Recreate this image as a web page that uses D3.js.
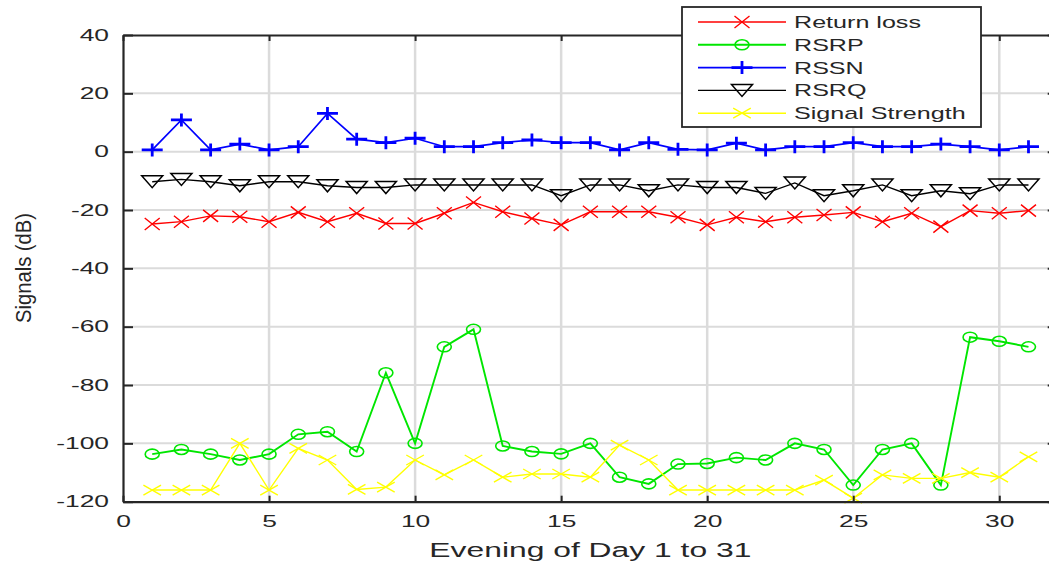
<!DOCTYPE html>
<html>
<head>
<meta charset="utf-8">
<script src="https://cdn.jsdelivr.net/npm/d3@7"></script>
<style>
body { margin: 0; background: #fff; }
svg { display: block; font-family: "Liberation Sans", Arial, sans-serif; }
</style>
</head>
<body>
<svg id="chart" width="1049" height="563"></svg>
<script>
//data
var days = [1,2,3,4,5,6,7,8,9,10,11,12,13,14,15,16,17,18,19,20,21,22,23,24,25,26,27,28,29,30,31];
var returnLoss = [-24.8,-24,-22,-22.3,-24,-20.8,-24,-21.1,-24.6,-24.6,-21.1,-17.4,-20.6,-22.9,-25.1,-20.6,-20.6,-20.6,-22.5,-25.1,-22.5,-24,-22.5,-21.7,-20.8,-24,-21.1,-25.7,-20.2,-21.1,-20.2];
var rsrp = [-103.7,-102.1,-103.7,-105.7,-103.7,-96.9,-96,-102.8,-75.8,-100,-66.9,-60.9,-100.9,-102.8,-103.6,-100,-111.6,-113.9,-107.1,-106.9,-104.9,-105.7,-100,-102.1,-114.3,-102.1,-100,-114.3,-63.6,-65,-66.9];
var rssn = [0.6,10.9,0.6,2.6,0.6,1.7,13.1,4.3,3.1,4.6,1.7,1.7,3.1,4,3.1,3.1,0.6,3.1,0.8,0.6,2.9,0.6,1.7,1.7,3.1,1.7,1.7,2.6,1.7,0.6,1.7];
var rsrq = [-10.3,-9.5,-10.3,-11.7,-10.3,-10.3,-11.7,-12.3,-12.3,-11.4,-11.4,-11.4,-11.4,-11.4,-15.1,-11.4,-11.4,-13.4,-11.4,-12.3,-12.3,-14.3,-10.7,-15.1,-13.4,-11.4,-15.1,-13.4,-14.4,-11.4,-11.4];
var signalStrength = [-116,-116,-116,-100,-116,-101.7,-105.7,-115.8,-115,-105.7,-110.8,-105.7,-111.6,-110.5,-110.5,-111.6,-100.6,-105.7,-116,-116,-116,-116,-116,-112.6,-118.8,-110.8,-112,-112,-110,-111.6,-104.6];
var seriesNames = ["Return loss","RSRP","RSSN","RSRQ","Signal Strength"];
var xTicks = [0,5,10,15,20,25,30];
var yTicks = [-120,-100,-80,-60,-40,-20,0,20,40];

//layout
var plotLeft = 123, plotRight = 1057.7, plotTop = 35, plotBottom = 501.7;
var ink = "#262626";
var sx = 1.65; //text in the picture is stretched sideways

var x = d3.scaleLinear().domain([0,32]).range([plotLeft,plotRight]);
var y = d3.scaleLinear().domain([-120,40]).range([plotBottom,plotTop]);

var svg = d3.select("#chart");

//grid
svg.append("g").selectAll("line").data(xTicks.slice(1)).enter().append("line")
	.attr("x1", d => x(d)).attr("x2", d => x(d))
	.attr("y1", plotTop).attr("y2", plotBottom)
	.attr("stroke", "#dbdbdb").attr("stroke-width", 2.5);
svg.append("g").selectAll("line").data(yTicks.slice(1,-1)).enter().append("line")
	.attr("x1", plotLeft).attr("x2", plotRight)
	.attr("y1", d => y(d)).attr("y2", d => y(d))
	.attr("stroke", "#dbdbdb").attr("stroke-width", 2);

//series styles
var series = [
	{name: seriesNames[0], values: returnLoss, color: "#ff0000", width: 1.4, marker: "x", mw: 7.5, mh: 6, mstroke: 1.4},
	{name: seriesNames[1], values: rsrp, color: "#00e600", width: 1.9, marker: "o", mw: 7, mh: 5, mstroke: 1.6},
	{name: seriesNames[2], values: rssn, color: "#0000ff", width: 1.7, marker: "+", mw: 10.5, mh: 6.5, mstroke: 2.8},
	{name: seriesNames[3], values: rsrq, color: "#000000", width: 1.4, marker: "v", mw: 10.5, mh: 6, mstroke: 1.5},
	{name: seriesNames[4], values: signalStrength, color: "#ffff00", width: 1.4, marker: "x", mw: 8.8, mh: 5, mstroke: 1.4}
];

function markerPath(s) {
	var w = s.mw, h = s.mh;
	if (s.marker == "x") return `M${-w},${-h}L${w},${h}M${-w},${h}L${w},${-h}`;
	if (s.marker == "+") return `M${-w},0L${w},0M0,${-h}L0,${h}`;
	if (s.marker == "v") return `M${-w},${-h}L${w},${-h}L0,${h}Z`;
	return `M${-w},0A${w},${h} 0 1,0 ${w},0A${w},${h} 0 1,0 ${-w},0Z`;
}

var line = d3.line().x((d,i) => x(days[i])).y(d => y(d));

series.forEach(function(s){
	var g = svg.append("g");
	g.append("path")
		.attr("d", line(s.values))
		.attr("fill", "none")
		.attr("stroke", s.color)
		.attr("stroke-width", s.width);
	g.selectAll("path.mk").data(s.values).enter().append("path")
		.attr("class", "mk")
		.attr("d", markerPath(s))
		.attr("transform", (d,i) => `translate(${x(days[i])},${y(d)})`)
		.attr("fill", "none")
		.attr("stroke", s.color)
		.attr("stroke-width", s.mstroke);
});

//axes (plain hyphen for negatives, like the picture)
var fmt = d => String(d);
var xAxis = svg.append("g").attr("transform", `translate(0,${plotBottom})`)
	.call(d3.axisBottom(x).tickValues(xTicks).tickFormat(fmt).tickSize(-6).tickSizeOuter(0).tickPadding(14));
var xTop = svg.append("g").attr("transform", `translate(0,${plotTop})`)
	.call(d3.axisTop(x).tickValues(xTicks).tickSize(-6).tickSizeOuter(0).tickFormat(""));
var yAxis = svg.append("g").attr("transform", `translate(${plotLeft},0)`)
	.call(d3.axisLeft(y).tickValues(yTicks).tickFormat(fmt).tickSize(-10).tickSizeOuter(0).tickPadding(14));
var yRight = svg.append("g").attr("transform", `translate(${plotRight},0)`)
	.call(d3.axisRight(y).tickValues(yTicks).tickSize(-10).tickSizeOuter(0).tickFormat(""));

[xAxis, xTop, yAxis, yRight].forEach(function(a){
	a.select(".domain").attr("stroke", ink).attr("stroke-width", 2.2);
	a.selectAll(".tick line").attr("stroke", ink).attr("stroke-width", 2);
	a.selectAll(".tick text").attr("fill", ink).attr("font-size", 16).attr("font-family", null);
});
xAxis.selectAll(".tick text").attr("transform", `scale(${sx},1)`);
yAxis.selectAll(".tick text")
	.attr("x", -14 / sx)
	.attr("transform", `scale(${sx},1)`);

//axis labels
svg.append("text")
	.attr("x", (plotLeft + plotRight) / 2).attr("y", 556.5)
	.attr("text-anchor", "middle")
	.attr("font-size", 20)
	.attr("fill", ink)
	.attr("textLength", 322).attr("lengthAdjust", "spacingAndGlyphs")
	.text("Evening of Day 1 to 31");

svg.append("text")
	.attr("transform", "translate(31,268) rotate(-90) scale(1,1.12)")
	.attr("text-anchor", "middle")
	.attr("font-size", 20)
	.attr("fill", ink)
	.attr("textLength", 110).attr("lengthAdjust", "spacingAndGlyphs")
	.text("Signals (dB)");

//legend
var legend = svg.append("g");
legend.append("rect")
	.attr("x", 682).attr("y", 7)
	.attr("width", 299).attr("height", 120)
	.attr("fill", "#fff")
	.attr("stroke", ink).attr("stroke-width", 1.8);

series.forEach(function(s, i){
	var cy = 22 + i * 22.8;
	legend.append("line")
		.attr("x1", 698).attr("x2", 786)
		.attr("y1", cy).attr("y2", cy)
		.attr("stroke", s.color).attr("stroke-width", s.width);
	legend.append("path")
		.attr("d", markerPath(s))
		.attr("transform", `translate(742,${cy})`)
		.attr("fill", "none")
		.attr("stroke", s.color)
		.attr("stroke-width", s.mstroke);
	legend.append("text")
		.attr("transform", `translate(794,${cy + 6}) scale(1.57,1)`)
		.attr("font-size", 16)
		.attr("fill", ink)
		.text(s.name);
});
</script>
</body>
</html>
